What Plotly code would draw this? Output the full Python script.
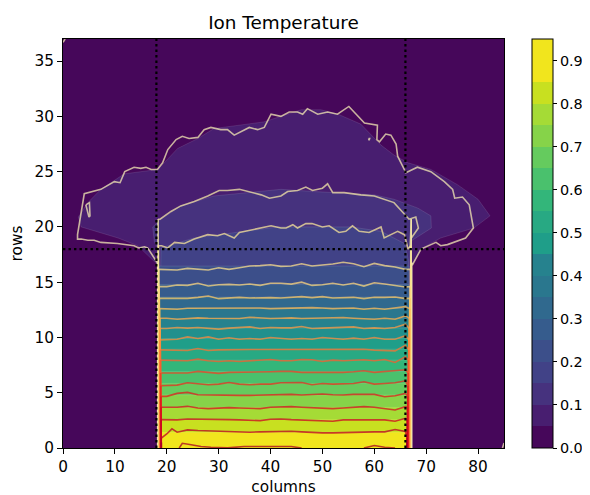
import plotly.graph_objects as go

TITLE = "Ion Temperature"
X_LABEL = "columns"
Y_LABEL = "rows"
X_TICKS = [0, 10, 20, 30, 40, 50, 60, 70, 80]
Y_TICKS = [0, 5, 10, 15, 20, 25, 30, 35]
GUIDE_COLS = [18, 66]
GUIDE_ROW = 18

LEVELS = [0.05, 0.10, 0.15, 0.20, 0.25, 0.30, 0.35, 0.40, 0.45, 0.50, 0.55, 0.60,
          0.65, 0.70, 0.75, 0.80, 0.85, 0.90, 0.95]
BAND_COLORS = ["#46075a", "#481e70", "#46327e", "#414287", "#3c4f8a", "#365c8d", "#30698e",
               "#2a778e", "#26828e", "#21908d", "#1f9e89", "#28a983", "#33b67a", "#4ac16d",
               "#65cb5e", "#86d349", "#a5db36", "#c8e020", "#f1e51d"]
LINE_COLORS = ["#f5eab5", "#f5e8a8", "#f8e59a", "#fadf8c", "#fcd77e", "#fdc967", "#febb56",
               "#feab49", "#fd9a42", "#fd8a3c", "#fc7232", "#fc5a2d", "#f23f26", "#e82d21",
               "#e31a1c", "#d80f1f", "#cc0622", "#bd0026", "#a80026"]

# filled region outlines
FILL05_X = [18.2, 18.2, 14.4, 10.6, 3.5, 2.95, 4.8, 7.3, 11.8, 18.3, 22.1, 26, 29.1, 38.7, 45.9, 49.7,
            53, 57.4, 61.3, 63.8, 66.5, 70.9, 76.1, 80, 82.3, 79.2, 72.8, 69, 67.3, 67.3]
FILL05_Y = [0, 16.6, 18.3, 19, 20, 20.9, 22.2, 23.4, 24.8, 25.2, 27.1, 28, 28.9, 29.5, 30.6, 30.6,
            30.2, 29.3, 27.4, 26.5, 25.8, 25.2, 23.8, 22.5, 21, 19.9, 19, 18, 16.6, 0]
FILL10_X = [18.3, 18.3, 17.6, 17.3, 18.9, 22.7, 29.1, 38.2, 42, 48.4, 60, 63.8, 68.4, 70.9, 71, 69, 67, 66.8, 66.8]
FILL10_Y = [0, 18, 18.7, 20, 20.7, 21.9, 22.8, 23.2, 23.4, 23.2, 22.9, 22.5, 21.7, 21, 19.9, 19.3, 18.7, 17, 0]
FILL15_X = [18.3, 18.9, 25.3, 31.8, 41.4, 55.5, 61.3, 65.8, 66.6, 66.6]
FILL15_Y = [0, 18.1, 19, 19.4, 20, 20, 19.6, 18.5, 17, 0]
FILL_LEFT = 18.3
FILL_RIGHT = 66.7
FLAT_TOPS = [16.46, 14.8, 13.65, 12.62, 11.7, 10.85, 9.9, 8.94, 7.95, 6.93, 5.85, 4.8, 3.68, 2.57, 1.42]

# positions of the contour lines along the stem walls, and how high each runs there
WALL_LEFT = [18.25, 18.32, 18.4, 18.47, 18.52, 18.57, 18.62, 18.67, 18.71, 18.75, 18.78, 18.8, 18.82,
             18.85, 18.87, 18.9, 18.92, 18.94, 18.96]
WALL_RIGHT = [67.2, 67.12, 67.04, 66.97, 66.92, 66.87, 66.82, 66.77, 66.72, 66.67, 66.62, 66.57, 66.52,
              66.47, 66.43, 66.39, 66.35, 66.32, 66.3]
WALL_TOP = [16.75, 20.7, 18.3, 16.16, 14.6, 13.54, 12.61, 11.74, 10.81, 9.78, 8.88, 7.95, 6.78, 5.63,
            4.67, 3.68, 2.57, 0.91, 0.5]

# contour line 0.05 (bottom of left wall over the cap to bottom of right wall)
L05_X = [18.2, 16.3, 15.7, 14.6, 13.7, 10.5, 7.3, 6, 4.8, 3.5, 2.8, 2.8, 4.1, 7.3, 9.9, 11, 11.9, 13.7, 15, 16, 17,
         18.2, 19.2, 20.2, 21.8, 23, 24.3, 26, 27.2, 28.5, 30.4, 31.7, 33, 35.9, 37.5, 38.8, 40.1, 42, 43.6, 45.2,
         46.2, 47.1, 49.1, 51, 52.9, 55.1, 58.1, 60.6, 60.5, 61, 62.2, 63.2, 64.2, 64.5, 66.1, 68.3, 70.9, 73.5,
         75.1, 75.5, 77, 78.3, 79.1, 77.6, 74.1, 72.8, 71.9, 69, 67.4]
L05_Y = [16.75, 18.1, 18.2, 18.1, 18.3, 18.5, 18.6, 18.8, 18.8, 18.9, 18.9, 19.3, 23, 23.4, 24.1, 24, 25, 25.4, 25.3,
         25.4, 25.2, 25.2, 25.8, 27, 27.9, 28.2, 28, 28.1, 28.8, 29, 28.8, 28.8, 28.3, 29, 28.8, 29, 30.2, 30, 30.4,
         30.4, 30.2, 30.7, 30.2, 30.4, 30.2, 30.9, 29.4, 29.2, 27.9, 27.7, 28.4, 28.3, 27.5, 26.4, 24.9, 25.4, 25,
         24.1, 23.4, 22.6, 22.7, 22, 19.9, 19, 18.4, 18.3, 18.6, 18, 16.6]
LOOP_X = [4.4, 5.1, 5.2, 5.0, 4.4]
LOOP_Y = [22, 22.2, 21, 20.9, 22]
SPECK_X = [58.9, 59.1, 59.0, 58.9]
SPECK_Y = [28.0, 28.0, 27.85, 28.0]
CORNER_X = [84.7, 85]
CORNER_Y = [0, 0.45]
CORNER2_X = [0, 0.4]
CORNER2_Y = [36.7, 37]

L10_X = [18.7, 20.8, 22.7, 25.3, 27.9, 30.1, 31.7, 34, 36.9, 38.2, 39.8, 42, 43.3, 45.2, 46.8, 48.1, 50, 51, 52,
         54.2, 57.4, 60, 63.8, 66.7, 68, 68.5, 67, 66.9]
L10_Y = [20.7, 21.4, 21.9, 22.3, 22.8, 23.3, 23.3, 23.4, 23.1, 22.9, 22.6, 22.8, 23.2, 23.3, 23.6, 23.3, 23.5, 23.9,
         23.1, 23.1, 22.9, 22.8, 22.2, 20.7, 20.9, 19.9, 18.9, 18]
L15_X = [19, 20.2, 21.5, 23.4, 25.3, 27.9, 29.8, 31.1, 33, 34, 36.9, 40.1, 42, 43, 44.3, 45.2, 46.8, 48, 50, 51.3,
         53.2, 54.5, 55.8, 57.1, 59, 61.3, 61.9, 64.5, 65.8, 66.5]
L15_Y = [18.3, 18.1, 18.6, 18.5, 18.9, 19.3, 19.2, 19.4, 19, 19.5, 19.8, 20.1, 19.9, 19.9, 20.2, 19.9, 20.3, 20.3,
         20, 20.1, 19.5, 19.6, 20.1, 19.6, 19.5, 20, 19, 19.6, 19.3, 18]

# contour lines crossing the stem, read at every second column
STEM_COLUMNS = [20, 22, 24, 26, 28, 30, 32, 34, 36, 38, 40, 42, 44, 46, 48, 50, 52, 54, 56, 58, 60, 62, 64, 66]
L20 = [16.16, 16.1, 16.25, 16.2, 16.1, 16.3, 16.16, 16.3, 16.46, 16.5, 16.58, 16.43,
       16.46, 16.67, 16.46, 16.55, 16.64, 16.8, 16.67, 16.4, 16.7, 16.5, 16.37, 16.16]
L25 = [14.6, 14.74, 14.71, 14.9, 14.65, 14.77, 14.8, 14.74, 14.83, 14.71, 14.9, 14.9,
       14.83, 15.0, 14.71, 14.77, 14.9, 14.74, 14.9, 14.65, 14.95, 14.83, 14.71, 14.56]
L30 = [13.54, 13.6, 13.54, 13.63, 13.75, 13.51, 13.57, 13.63, 13.57, 13.6, 13.6, 13.57,
       13.63, 13.69, 13.6, 13.69, 13.57, 13.63, 13.63, 13.51, 13.63, 13.63, 13.66, 13.51]
L35 = [12.61, 12.55, 12.64, 12.64, 12.7, 12.64, 12.7, 12.64, 12.67, 12.67, 12.61, 12.64,
       12.67, 12.64, 12.7, 12.67, 12.61, 12.64, 12.67, 12.55, 12.64, 12.55, 12.64, 12.79]
L40 = [11.74, 11.65, 11.71, 11.77, 11.74, 11.71, 11.74, 11.71, 11.83, 11.74, 11.71, 11.74,
       11.77, 11.71, 11.74, 11.71, 11.74, 11.8, 11.74, 11.71, 11.65, 11.74, 11.65, 11.95]
L45 = [10.81, 10.9, 10.84, 10.9, 10.81, 10.75, 10.84, 10.87, 10.96, 10.81, 10.9, 10.87,
       10.87, 10.99, 10.81, 10.84, 10.9, 10.9, 10.96, 10.81, 10.87, 10.81, 10.9, 11.2]
L50 = [9.78, 9.84, 10.05, 9.9, 10.05, 9.84, 9.97, 9.84, 9.9, 9.84, 10.0, 9.94,
       9.84, 9.9, 9.84, 10.0, 9.94, 9.84, 9.94, 9.84, 10.0, 9.84, 9.84, 10.15]
L55 = [8.88, 8.88, 8.82, 9.0, 8.82, 8.88, 8.91, 8.91, 8.91, 8.91, 8.91, 8.91,
       8.91, 8.94, 8.88, 8.94, 8.88, 8.88, 8.88, 8.94, 8.85, 8.79, 8.79, 9.3]
L60 = [7.95, 7.89, 7.89, 8.04, 7.89, 7.83, 7.89, 7.83, 7.89, 7.89, 8.01, 7.89,
       7.89, 8.01, 7.98, 7.83, 7.95, 7.89, 7.95, 7.98, 7.89, 8.01, 7.74, 8.25]
L65 = [6.78, 6.84, 6.78, 6.93, 6.84, 6.75, 6.84, 6.84, 6.84, 6.87, 6.9, 6.93,
       6.93, 6.84, 6.84, 6.81, 6.84, 6.84, 6.9, 6.99, 6.84, 6.9, 6.99, 7.08]
L70 = [5.63, 5.69, 5.9, 5.84, 5.72, 5.78, 5.93, 5.78, 5.72, 5.78, 5.78, 5.9,
       5.93, 5.93, 5.72, 5.84, 5.78, 5.78, 5.84, 5.99, 5.78, 5.84, 5.9, 6.08]
L75 = [4.67, 4.94, 5.03, 4.82, 4.79, 4.82, 4.79, 4.76, 4.76, 4.79, 4.82, 4.85,
       4.85, 4.79, 4.82, 4.88, 4.82, 4.79, 4.85, 4.82, 4.85, 4.64, 4.73, 4.94]
L80 = [3.68, 3.68, 3.77, 3.62, 3.56, 3.62, 3.65, 3.62, 3.62, 3.56, 3.68, 3.74,
       3.74, 3.68, 3.62, 3.56, 3.56, 3.62, 3.68, 3.74, 3.68, 3.56, 3.44, 3.74]
L85 = [2.57, 2.54, 2.63, 2.63, 2.63, 2.63, 2.57, 2.54, 2.51, 2.48, 2.6, 2.63,
       2.57, 2.54, 2.48, 2.42, 2.42, 2.54, 2.57, 2.54, 2.54, 2.54, 2.42, 2.69]
L90_X = [19, 20, 21, 22, 24, 26, 28, 30, 32, 34, 36, 38, 40, 42, 44, 46, 48, 50, 52, 54, 56, 58, 60, 62, 64, 66]
L90_Y = [0.91, 1.27, 1.73, 1.43, 1.64, 1.58, 1.55, 1.49, 1.43, 1.4, 1.43, 1.46, 1.49, 1.52,
         1.52, 1.46, 1.4, 1.37, 1.37, 1.4, 1.46, 1.46, 1.46, 1.46, 1.67, 1.49]
L95_X = [22.4, 23, 24.7, 26.6, 28.5, 31.7, 34.9, 38, 42.6, 44, 46, None, 58, 60, 62, 64]
L95_Y = [0, 0.43, 0.3, 0.13, 0.07, 0.01, 0.13, 0.13, 0.13, 0.13, 0, None, 0, 0.22, 0.07, 0]

LW = 1.6
LINE_OPACITY = 0.75
PAGE_OFFSET = 7
TICK_SIZE = 15.3
BAR_TICK_SIZE = 14.4
TITLE_SIZE = 18.4

fig = go.Figure()

n = len(BAND_COLORS)
scale = []
for i, c in enumerate(BAND_COLORS):
    scale += [[i / n, c], [(i + 1) / n, c]]
fig.add_trace(go.Contour(
    x=[0, 85], y=[0, 37], z=[[0, 0], [0, 0]],
    zmin=0, zmax=0.95, autocontour=False,
    contours=dict(start=0, end=0.95, size=0.05, coloring="fill", showlines=False),
    line=dict(width=0), colorscale=scale, hoverinfo="skip",
    colorbar=dict(x=(531 - 62) / 441, xanchor="left", xpad=0, thickness=21, thicknessmode="pixels",
                  len=1, lenmode="fraction", y=0, yanchor="bottom", ypad=0,
                  tick0=0, dtick=0.1, tickformat=".1f", ticks="outside", ticklen=4, tickwidth=1,
                  tickcolor="#000", outlinecolor="#000", outlinewidth=1,
                  tickfont=dict(family="DejaVu Sans", size=BAR_TICK_SIZE, color="#000"))))


def band(xs, ys, color):
    fig.add_trace(go.Scatter(x=xs, y=ys, mode="lines", fill="toself", fillcolor=color,
                             line=dict(color="rgba(255,255,255,0.18)", width=0.6),
                             hoverinfo="skip", showlegend=False))


band(FILL05_X, FILL05_Y, BAND_COLORS[1])
band(FILL10_X, FILL10_Y, BAND_COLORS[2])
band(FILL15_X, FILL15_Y, BAND_COLORS[3])
for k, top in enumerate(FLAT_TOPS):
    band([FILL_LEFT, FILL_LEFT, FILL_RIGHT, FILL_RIGHT], [0, top, top, 0], BAND_COLORS[k + 4])


def contour_line(i, xs, ys):
    fig.add_trace(go.Scatter(x=[WALL_LEFT[i]] + xs + [WALL_RIGHT[i]], y=[WALL_TOP[i]] + ys + [WALL_TOP[i]],
                             mode="lines", line=dict(color=LINE_COLORS[i], width=LW), opacity=LINE_OPACITY,
                             hoverinfo="skip", showlegend=False))


def extra_line(i, xs, ys):
    fig.add_trace(go.Scatter(x=xs, y=ys, mode="lines", line=dict(color=LINE_COLORS[i], width=LW),
                             opacity=LINE_OPACITY, hoverinfo="skip", showlegend=False))


contour_line(0, L05_X, L05_Y)
extra_line(0, LOOP_X, LOOP_Y)
extra_line(0, SPECK_X, SPECK_Y)
extra_line(0, CORNER_X, CORNER_Y)
extra_line(0, CORNER2_X, CORNER2_Y)
contour_line(1, L10_X, L10_Y)
contour_line(2, L15_X, L15_Y)
for i, ys in enumerate([L20, L25, L30, L35, L40, L45, L50, L55, L60, L65, L70, L75, L80, L85]):
    contour_line(i + 3, STEM_COLUMNS, ys)
contour_line(17, L90_X, L90_Y)
extra_line(18, L95_X, L95_Y)

# the stacked lines along the stem walls read as an opaque cream-to-red gradient
for i in range(len(LEVELS)):
    for wx in (WALL_LEFT[i], WALL_RIGHT[i]):
        fig.add_trace(go.Scatter(x=[wx, wx], y=[0, WALL_TOP[i]], mode="lines",
                                 line=dict(color=LINE_COLORS[i], width=LW), opacity=0.95,
                                 hoverinfo="skip", showlegend=False))

for c in GUIDE_COLS:
    fig.add_trace(go.Scatter(x=[c, c], y=[0, 37], mode="lines", hoverinfo="skip", showlegend=False,
                             line=dict(color="#000", width=2.2, dash="2.4px,3.1px")))
fig.add_trace(go.Scatter(x=[0, 85], y=[GUIDE_ROW, GUIDE_ROW], mode="lines", hoverinfo="skip", showlegend=False,
                         line=dict(color="#000", width=2.2, dash="2.4px,3.1px")))

axis_common = dict(showgrid=False, zeroline=False, ticks="outside", ticklen=5, tickwidth=1, tickcolor="#000",
                   showline=True, linecolor="#000", linewidth=1, mirror=True,
                   tickfont=dict(family="DejaVu Sans", size=TICK_SIZE, color="#000"),
                   title_font=dict(family="DejaVu Sans", size=TICK_SIZE, color="#000"))
W = 590
H = 495 - PAGE_OFFSET
fig.update_layout(
    width=W, height=H, paper_bgcolor="#fff", plot_bgcolor=BAND_COLORS[0], showlegend=False,
    margin=dict(l=62 - PAGE_OFFSET, r=W - (62 - PAGE_OFFSET) - 441, t=38 - PAGE_OFFSET, b=495 - 447.5, autoexpand=False),
    title=dict(text=TITLE, x=0.5, xref="paper", xanchor="center", y=1 - (22 - PAGE_OFFSET) / H, yref="container",
               yanchor="middle", font=dict(family="DejaVu Sans", size=TITLE_SIZE, color="#000")),
    xaxis=dict(range=[0, 85], tickvals=X_TICKS, title=dict(text=X_LABEL, standoff=9), **axis_common),
    yaxis=dict(range=[0, 37], tickvals=Y_TICKS, title=dict(text=Y_LABEL, standoff=8), **axis_common),
)
fig.write_html("out.html")
